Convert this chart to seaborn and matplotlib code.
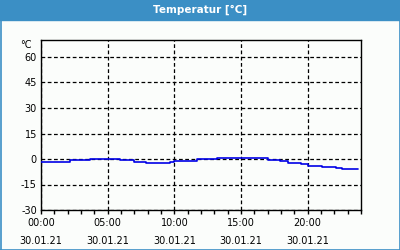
import numpy as np
import pandas as pd
import seaborn as sns
import matplotlib as mpl
import matplotlib.pyplot as plt
from matplotlib.patches import Rectangle
from matplotlib.lines import Line2D

# temperature readings, hours since midnight 30.01.21
hours = [0.0, 2.2, 3.7, 5.9, 7.0, 7.9, 8.8, 9.7, 10.0, 10.4, 11.7, 12.8,
         13.2, 17.0, 17.9, 18.5, 19.5, 20.0, 21.1, 22.1, 22.6, 23.8]
temps = [-1.5, -0.6, 0.0, -0.8, -1.6, -2.2, -2.5, -2.0, -1.2, -1.2, -0.2, 0.1,
         0.6, -0.4, -1.4, -2.2, -3.1, -3.9, -4.5, -5.5, -5.9, -5.9]
x_ticks = [0, 5, 10, 15, 20]
x_labels = ['00:00\n30.01.21', '05:00\n30.01.21', '10:00\n30.01.21',
            '15:00\n30.01.21', '20:00\n30.01.21']
y_ticks = [-30, -15, 0, 15, 30, 45, 60]

sns.set_style('white')
plt.rcParams['font.family'] = ['DejaVu Sans']
plt.rcParams['text.color'] = 'black'
plt.rcParams['xtick.color'] = 'black'
plt.rcParams['ytick.color'] = 'black'

bg = '#fbfdfb'
blue = '#3b8fc5'

fig = plt.figure(figsize=(4, 2.5), dpi=100, facecolor=bg)
ax = fig.add_axes([41 / 400, 40 / 250, 320 / 400, 170 / 250], facecolor=bg)

df = pd.DataFrame({'h': hours, 't': temps})
sns.lineplot(data=df, x='h', y='t', ax=ax, color='#0000e6', lw=1.2,
             drawstyle='steps-post', zorder=3)

ax.set_xlim(0, 24)
ax.set_ylim(-30, 70)
ax.set_xticks(x_ticks)
ax.set_xticklabels(x_labels, fontsize=7, linespacing=1.9, color='black')
ax.set_xticks(range(0, 25), minor=True)
ax.set_yticks(y_ticks)
ax.set_yticklabels([str(v) for v in y_ticks], fontsize=7, color='black')
ax.set_xlabel('')
ax.set_ylabel('')
ax.tick_params(axis='x', which='both', direction='out', length=3, width=1,
               color='black', pad=3, bottom=True)
ax.tick_params(axis='y', length=0, pad=3)
for s in ax.spines.values():
    s.set_color('black')
    s.set_linewidth(1)
ax.grid(True, which='major', color='black', linestyle=(0, (3, 2)), lw=0.9)
ax.text(-0.03, 1.0, '°C', transform=ax.transAxes, fontsize=7, color='black',
        ha='right', va='top')

# title bar and frame
fig.patches.append(Rectangle((0, 230 / 250), 1, 20 / 250, transform=fig.transFigure,
                             color=blue, zorder=0))
fig.text(0.5, 240 / 250, 'Temperatur [°C]', color='white', fontsize=7.5,
         fontweight='bold', ha='center', va='center')
for xs, ys in [([0.5 / 400, 0.5 / 400], [0, 1]), ([399.5 / 400, 399.5 / 400], [0, 1]),
               ([0, 1], [0.5 / 250, 0.5 / 250])]:
    fig.lines.append(Line2D(xs, ys, transform=fig.transFigure, color=blue, lw=1.2))

fig.savefig('out.png', dpi=100, facecolor=bg)
